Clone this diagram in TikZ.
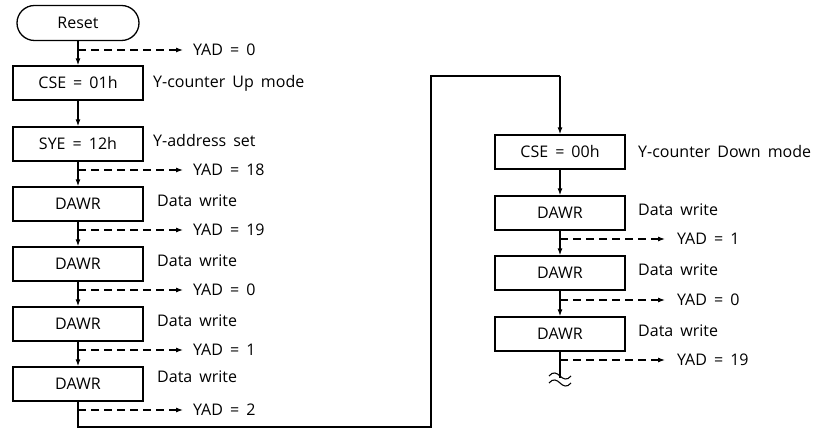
\documentclass[tikz,border=0pt]{standalone}
\usepackage{fontspec}
\setmainfont{Open Sans}[WordSpace=1.7]
\usetikzlibrary{arrows.meta}
\begin{document}
\begin{tikzpicture}[x=1pt,y=1pt,
  every node/.style={font=\fontsize{16}{19}\selectfont},
  box/.style={draw,line width=1.3pt,minimum width=130pt,minimum height=34pt,inner sep=0pt},
  term/.style={draw,line width=1.3pt,minimum width=122pt,minimum height=35pt,inner sep=0pt,rounded corners=17.5pt},
  flow/.style={line width=1.3pt,-{Latex[length=7pt,width=5pt]}},
  plain/.style={line width=1.3pt},
  branch/.style={line width=1.1pt,dash pattern=on 8pt off 5pt,-{Latex[length=7pt,width=5pt]}},
  lbl/.style={anchor=west,inner sep=0pt},
  yad/.style={anchor=west,inner sep=0pt}]
\useasboundingbox (0,0) rectangle (829,430);
% left column
\node[term] (reset) at (78,407) {Reset};
\node[box] (cse1) at (78,347) {CSE = 01h};
\node[box] (sye) at (78,286) {SYE = 12h};
\node[box] (d1) at (78,226) {DAWR};
\node[box] (d2) at (78,166) {DAWR};
\node[box] (d3) at (78,106) {DAWR};
\node[box] (d4) at (78,46) {DAWR};
\draw[flow] (reset) -- (cse1);
\draw[flow] (cse1) -- (sye);
\draw[flow] (sye) -- (d1);
\draw[flow] (d1) -- (d2);
\draw[flow] (d2) -- (d3);
\draw[flow] (d3) -- (d4);
% labels left
\node[lbl] (l1) at (153,347) {Y-counter Up mode};
\node[lbl] (l2) at (153,289) {Y-address set};
\node[lbl] (l3) at (157,229) {Data write};
\node[lbl] (l4) at (157,169) {Data write};
\node[lbl] (l5) at (157,109) {Data write};
\node[lbl] (l6) at (157,53) {Data write};
% branches left
\foreach \n/\yy/\t in {a/380/0, b/260/18, c/200/19, e/140/0, f/80/1, g/20/2}{
  \coordinate (s\n) at (78,\yy);
  \coordinate (t\n) at (183,\yy);
  \draw[branch] (s\n) -- (t\n);
  \node[yad] (y\n) at (193,\yy) {YAD = \t};
}
% loop
\coordinate (c1) at (78,3);
\coordinate (c2) at (431,3);
\coordinate (c3) at (431,354);
\coordinate (c4) at (560,354);
\node[box] (cse0) at (560,278) {CSE = 00h};
\node[box] (r1) at (560,217) {DAWR};
\node[box] (r2) at (560,157) {DAWR};
\node[box] (r3) at (560,96) {DAWR};
\draw[plain] (d4) -- (c1) -- (c2) -- (c3) -- (c4);
\draw[flow] (c4) -- (cse0);
\draw[flow] (cse0) -- (r1);
\draw[flow] (r1) -- (r2);
\draw[flow] (r2) -- (r3);
\coordinate (endp) at (560,52);
\draw[plain] (r3) -- (endp);
% squiggle
\draw[line width=1.1pt] (549,54) .. controls (553,59) and (557,57) .. (560,54) .. controls (563,51) and (567,49) .. (571,54);
\draw[line width=1.1pt] (549,47) .. controls (553,52) and (557,50) .. (560,47) .. controls (563,44) and (567,42) .. (571,47);
% labels right
\node[lbl] (m1) at (638,278) {Y-counter Down mode};
\node[lbl] (m2) at (638,220) {Data write};
\node[lbl] (m3) at (638,160) {Data write};
\node[lbl] (m4) at (638,99) {Data write};
\foreach \n/\yy/\t in {h/191/1, i/130/0, j/70/19}{
  \coordinate (s\n) at (560,\yy);
  \coordinate (t\n) at (665,\yy);
  \draw[branch] (s\n) -- (t\n);
  \node[yad] (y\n) at (677,\yy) {YAD = \t};
}
\end{tikzpicture}
\end{document}
